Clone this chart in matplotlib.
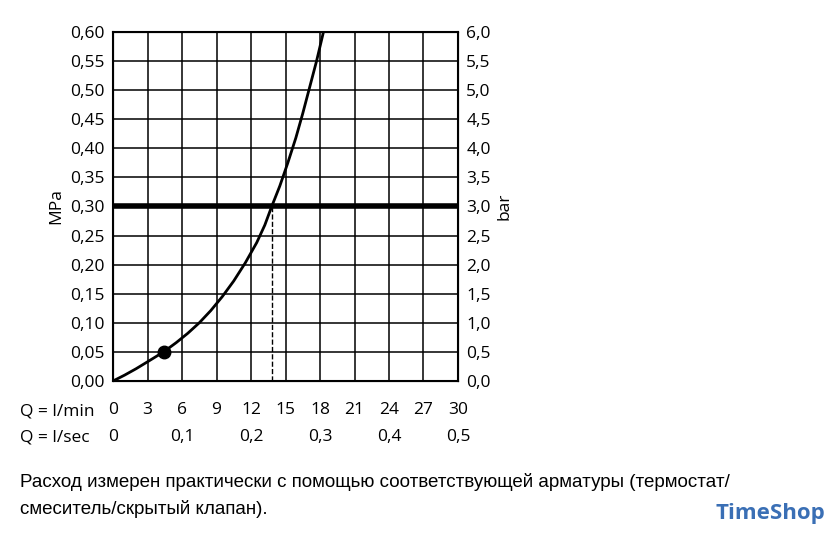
import numpy as np
import matplotlib
matplotlib.use('Agg')
import matplotlib.pyplot as plt

plt.rcParams['font.family'] = ['Open Sans', 'DejaVu Sans']

# curve (l/min, MPa)
flow = [0, 1.0, 2.0, 3.0, 4.4, 5.5, 6.5, 7.5, 8.5, 9.5, 10.5, 11.5, 12.5, 13.2, 13.8,
        14.5, 15.2, 15.9, 16.5, 17.1, 17.7, 18.3]
press = [0, 0.010, 0.021, 0.033, 0.05, 0.066, 0.082, 0.100, 0.121, 0.145, 0.172, 0.203,
         0.238, 0.268, 0.30, 0.335, 0.375, 0.418, 0.46, 0.505, 0.55, 0.60]
dot = (4.4, 0.05)
limit_p = 0.30
limit_q = 13.8

lmin_ticks = [0, 3, 6, 9, 12, 15, 18, 21, 24, 27, 30]
lsec_vals = [0, 0.1, 0.2, 0.3, 0.4, 0.5]
y_ticks = np.round(np.arange(0, 0.61, 0.05), 2)

fig = plt.figure(figsize=(8.4, 5.47), dpi=100)
ax = fig.add_axes([113 / 840, 1 - 381 / 547, 345 / 840, 349 / 547])
ax.set_xlim(0, 30)
ax.set_ylim(0, 0.6)
ax.set_xticks(lmin_ticks)
ax.set_yticks(y_ticks)
ax.grid(True, color='black', linewidth=1.1)
ax.set_axisbelow(True)
for s in ax.spines.values():
    s.set_linewidth(1.5)
ax.tick_params(length=0, labelsize=12.5, pad=6)
ax.tick_params(axis='x', pad=15)
ax.set_yticklabels([f'{v:.2f}'.replace('.', ',') for v in y_ticks])
ax.set_xticklabels([str(v) for v in lmin_ticks])

ax.plot(flow, press, color='black', linewidth=2, zorder=3)
ax.axhline(limit_p, color='black', linewidth=4, zorder=4)
ax.plot([limit_q, limit_q], [0, limit_p], color='black', linestyle='--', linewidth=1, zorder=3)
ax.plot(*dot, 'o', color='black', markersize=9, zorder=5)
ax.set_ylabel('MPa', fontsize=12.5)

ax2 = ax.twinx()
ax2.set_ylim(0, 6)
ax2.set_yticks(np.arange(0, 6.01, 0.5))
ax2.set_yticklabels([f'{v:.1f}'.replace('.', ',') for v in np.arange(0, 6.01, 0.5)])
ax2.tick_params(length=0, labelsize=12.5, pad=6)
ax2.set_ylabel('bar', fontsize=12.5, rotation=90)

# l/sec row
for v in lsec_vals:
    lab = '0' if v == 0 else f'{v:.1f}'.replace('.', ',')
    ax.text(v * 60, -0.097, lab, ha='center', va='center', fontsize=12.5,
            transform=ax.transData, clip_on=False)
fig.text(20 / 840, 1 - 411 / 547, 'Q = l/min', fontsize=12.5, va='center')
fig.text(20 / 840, 1 - 438 / 547, 'Q = l/sec', fontsize=12.5, va='center')

fig.text(20 / 840, 1 - 482 / 547,
         'Расход измерен практически с помощью соответствующей арматуры (термостат/',
         fontsize=13.5, va='center', family=['Liberation Sans', 'DejaVu Sans'])
fig.text(20 / 840, 1 - 509 / 547, 'смеситель/скрытый клапан).',
         fontsize=13.5, va='center', family=['Liberation Sans', 'DejaVu Sans'])
fig.text(715 / 840, 1 - 513 / 547, 'TimeShop', fontsize=16, color='#3a6fb5',
         va='center', fontweight='bold')

fig.savefig('out.png', dpi=100)
